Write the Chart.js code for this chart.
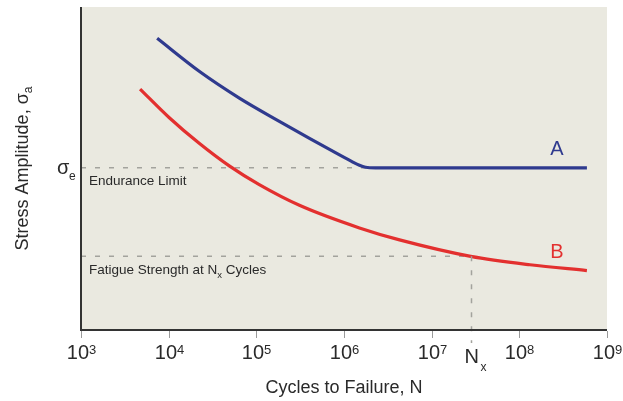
<!DOCTYPE html>
<html>
<head>
<meta charset="utf-8">
<script src="https://cdn.jsdelivr.net/npm/chart.js@4.4.1/dist/chart.umd.min.js"></script>
<style>
  html, body { margin: 0; padding: 0; background: #fff; }
  #chart { display: block; }
</style>
</head>
<body>
<canvas id="chart" width="623" height="401"></canvas>
<script>
// --------- Data -------------------------------------
const CYCLES_A = [7390, 22300, 64000, 183000, 889000, 1.22e6, 1.5e6, 1.76e6, 2.29e6, 5.9e8];
const STRESS_A = [90.3, 80.1, 71.8, 64.6, 54.2, 52.2, 51.0, 50.4, 50.2, 50.2];

const CYCLES_B = [4720, 10100, 22300, 49100, 108000, 310000, 1.5e6, 4.3e6, 2.79e7, 1.32e8, 5.9e8];
const STRESS_B = [74.6, 65.8, 57.8, 50.8, 45.0, 38.6, 31.6, 27.9, 22.8, 20.2, 18.4];

const X_TICK_EXP = [3, 4, 5, 6, 7, 8, 9];
const ENDURANCE_LIMIT = 50.2;
const ENDURANCE_END = 2.2e6;
const N_X = 2.79e7;
const FATIGUE_AT_NX = 22.8;

// --------- Styles ----------
const FONT = '"Liberation Sans", Arial, Helvetica, sans-serif';
const BLUE = '#2f3a8e';
const RED = '#e3302f';
const DASH = '#a3a39d';
const TEXT = '#2a2a2a';

const pts = (xs, ys) => xs.map((x, i) => ({ x, y: ys[i] }));

// --------- Custom drawing (background, axes, labels) ----------
const sketch = {
  id: 'sketch',
  beforeDraw(chart) {
    const { ctx, chartArea: a } = chart;
    ctx.save();
    ctx.fillStyle = '#eae9e0';
    ctx.fillRect(a.left, a.top, a.right - a.left, a.bottom - a.top);
    ctx.restore();
  },
  afterDatasetsDraw(chart) {
    const { ctx, chartArea: a, scales: { x: xs, y: ys } } = chart;
    ctx.save();

    // vertical guide at Nx
    const nx = Math.round(xs.getPixelForValue(N_X)) + 0.5;
    ctx.strokeStyle = DASH;
    ctx.lineWidth = 1.5;
    ctx.setLineDash([5, 9]);
    ctx.beginPath();
    ctx.moveTo(nx, ys.getPixelForValue(FATIGUE_AT_NX));
    ctx.lineTo(nx, a.bottom + 13);
    ctx.stroke();
    ctx.setLineDash([]);

    // axes
    ctx.strokeStyle = '#333';
    ctx.lineWidth = 2;
    ctx.beginPath();
    ctx.moveTo(a.left, a.top);
    ctx.lineTo(a.left, a.bottom);
    ctx.lineTo(a.right, a.bottom);
    ctx.stroke();

    // tick marks + labels 10^k
    ctx.textBaseline = 'alphabetic';
    ctx.fillStyle = TEXT;
    X_TICK_EXP.forEach(e => {
      const px = Math.round(xs.getPixelForValue(Math.pow(10, e))) + 0.5;
      ctx.strokeStyle = '#9a9a9a';
      ctx.lineWidth = 1;
      ctx.beginPath();
      ctx.moveTo(px, a.bottom + 1);
      ctx.lineTo(px, a.bottom + 8);
      ctx.stroke();

      ctx.font = '20px ' + FONT;
      const wBase = ctx.measureText('10').width;
      ctx.font = '13px ' + FONT;
      const wSup = ctx.measureText(String(e)).width;
      const x0 = px - (wBase + wSup) / 2;
      ctx.textAlign = 'left';
      ctx.font = '20px ' + FONT;
      ctx.fillText('10', x0, a.bottom + 29);
      ctx.font = '13px ' + FONT;
      ctx.fillText(String(e), x0 + wBase, a.bottom + 23.5);
    });

    // Nx label
    ctx.textAlign = 'left';
    ctx.font = '20px ' + FONT;
    ctx.fillText('N', nx - 7, a.bottom + 33);
    ctx.font = '12px ' + FONT;
    ctx.fillText('x', nx + 9, a.bottom + 41);

    // sigma_e label
    const ey = ys.getPixelForValue(ENDURANCE_LIMIT);
    ctx.font = '20px ' + FONT;
    ctx.fillText('σ', a.left - 24, ey + 6);
    ctx.font = '12px ' + FONT;
    ctx.fillText('e', a.left - 12, ey + 12);

    // annotations inside the plot
    ctx.font = '13.5px ' + FONT;
    ctx.fillText('Endurance Limit', a.left + 8, ey + 17);
    const fy = ys.getPixelForValue(FATIGUE_AT_NX);
    const t1 = 'Fatigue Strength at N';
    ctx.fillText(t1, a.left + 8, fy + 18);
    const w1 = ctx.measureText(t1).width;
    ctx.font = '9.5px ' + FONT;
    ctx.fillText('x', a.left + 8 + w1, fy + 22);
    const w2 = ctx.measureText('x').width;
    ctx.font = '13.5px ' + FONT;
    ctx.fillText(' Cycles', a.left + 8 + w1 + w2, fy + 18);

    // curve labels
    ctx.textAlign = 'center';
    ctx.font = '20px ' + FONT;
    ctx.fillStyle = BLUE;
    ctx.fillText('A', 557, 155);
    ctx.fillStyle = RED;
    ctx.fillText('B', 557, 258);

    // axis titles
    ctx.fillStyle = TEXT;
    ctx.font = '18px ' + FONT;
    ctx.fillText('Cycles to Failure, N', (a.left + a.right) / 2, 393);

    ctx.translate(28, (a.top + a.bottom) / 2);
    ctx.rotate(-Math.PI / 2);
    const yt = 'Stress Amplitude, σ';
    const wy = ctx.measureText(yt).width;
    ctx.font = '12px ' + FONT;
    const wa = ctx.measureText('a').width;
    const sx = -(wy + wa) / 2;
    ctx.textAlign = 'left';
    ctx.font = '18px ' + FONT;
    ctx.fillText(yt, sx, 0);
    ctx.font = '12px ' + FONT;
    ctx.fillText('a', sx + wy, 4);

    ctx.restore();
  }
};

// --------- Chart ----------
const ctx = document.getElementById('chart').getContext('2d');
new Chart(ctx, {
  type: 'line',
  data: {
    datasets: [
      { data: pts(CYCLES_A, STRESS_A), borderColor: BLUE, borderWidth: 3.2, cubicInterpolationMode: 'monotone' },
      { data: pts(CYCLES_B, STRESS_B), borderColor: RED, borderWidth: 3.2, cubicInterpolationMode: 'monotone' },
      { data: [{ x: 1000, y: ENDURANCE_LIMIT }, { x: ENDURANCE_END, y: ENDURANCE_LIMIT }],
        borderColor: DASH, borderWidth: 1.5, borderDash: [5, 9] },
      { data: [{ x: 1000, y: FATIGUE_AT_NX }, { x: N_X, y: FATIGUE_AT_NX }],
        borderColor: DASH, borderWidth: 1.5, borderDash: [5, 9] }
    ]
  },
  options: {
    responsive: false,
    animation: false,
    devicePixelRatio: 1,
    elements: { point: { radius: 0 } },
    layout: { padding: { left: 81, right: 16, top: 7, bottom: 71 } },
    plugins: { legend: { display: false }, tooltip: { enabled: false } },
    scales: {
      x: { type: 'logarithmic', min: 1e3, max: 1e9, display: false },
      y: { type: 'linear', min: 0, max: 100, display: false }
    }
  },
  plugins: [sketch]
});
</script>
</body>
</html>
